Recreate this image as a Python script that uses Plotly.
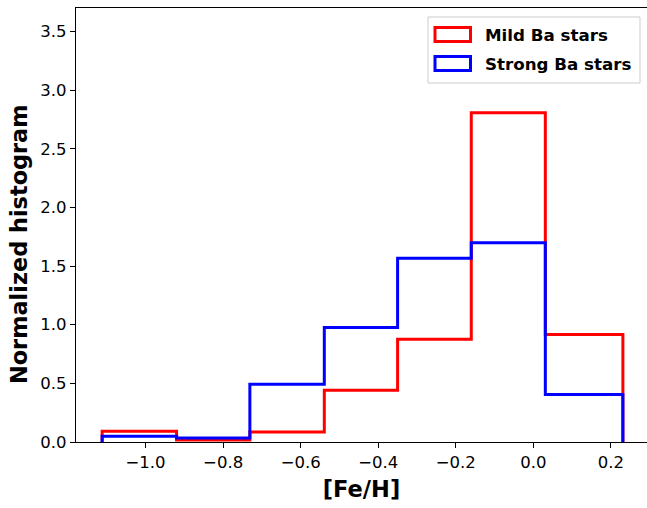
import plotly.graph_objects as go

# Histogram bin edges in [Fe/H]
bin_edges = [-1.112, -0.920, -0.731, -0.539, -0.350, -0.160, 0.031, 0.231]

# Normalized (density) bin heights for each sample
mild_heights = [0.091, 0.017, 0.085, 0.441, 0.876, 2.807, 0.916]
strong_heights = [0.049, 0.034, 0.492, 0.976, 1.567, 1.698, 0.404]

series_names = ["Mild Ba stars", "Strong Ba stars"]
series_colors = ["#ff0000", "#0000ff"]

x_tick_vals = [-1.0, -0.8, -0.6, -0.4, -0.2, 0.0, 0.2]
x_tick_text = ["\u22121.0", "\u22120.8", "\u22120.6", "\u22120.4", "\u22120.2", "0.0", "0.2"]
y_tick_vals = [0.0, 0.5, 1.0, 1.5, 2.0, 2.5, 3.0, 3.5]
y_tick_text = ["0.0", "0.5", "1.0", "1.5", "2.0", "2.5", "3.0", "3.5"]

FONT = "DejaVu Sans"


def step_outline(edges, heights):
    """Outline of a step histogram: up from 0 at the first edge, across, down at the last."""
    xs = [edges[0]] + list(edges[:-1]) + [edges[-1]]
    ys = [0.0] + list(heights) + [0.0]
    return xs, ys


fig = go.Figure()
for name, heights, color in zip(series_names, [mild_heights, strong_heights], series_colors):
    xs, ys = step_outline(bin_edges, heights)
    fig.add_trace(go.Scatter(
        x=xs, y=ys, mode="lines", name=name,
        line=dict(color=color, width=3, shape="hv"),
        showlegend=False, hoverinfo="skip",
    ))

W, H = 647, 508
ML, MR, MT, MB = 76, 0, 8, 66
PW, PH = W - ML - MR, H - MT - MB


def px_x(p):
    return (p - ML) / PW


def px_y(p):
    return (H - MB - p) / PH


# Legend frame with outlined patches
shapes = [dict(type="rect", xref="paper", yref="paper",
               x0=px_x(428), x1=px_x(640), y0=px_y(83), y1=px_y(17),
               line=dict(color="#cccccc", width=1), fillcolor="rgba(255,255,255,0.8)", layer="above")]
annotations = []
for i, (name, color) in enumerate(zip(series_names, series_colors)):
    yc = 34.5 + i * 29
    shapes.append(dict(type="rect", xref="paper", yref="paper",
                       x0=px_x(435), x1=px_x(470.5), y0=px_y(yc + 7), y1=px_y(yc - 7),
                       line=dict(color=color, width=3), fillcolor="white", layer="above"))
    annotations.append(dict(xref="paper", yref="paper", x=px_x(483), y=px_y(yc),
                            xanchor="left", yanchor="middle", showarrow=False, text=f"<b>{name}</b>",
                            font=dict(family=FONT, size=16.7, color="black")))

# Y-axis label
annotations.append(dict(xref="paper", yref="paper", x=px_x(19), y=px_y(244),
                        xanchor="center", yanchor="middle", showarrow=False, textangle=-90,
                        text="<b>Normalized histogram</b>",
                        font=dict(family=FONT, size=22.4, color="black")))

fig.update_layout(
    width=W, height=H,
    margin=dict(l=ML, r=MR, t=MT, b=MB, pad=0),
    paper_bgcolor="white", plot_bgcolor="white",
    font=dict(family=FONT, size=16, color="black"),
    shapes=shapes, annotations=annotations,
    xaxis=dict(
        range=[-1.1794, 0.2932], tickvals=x_tick_vals, ticktext=x_tick_text,
        showgrid=False, zeroline=False, showline=True, linecolor="black", linewidth=1.2,
        mirror=True, ticks="outside", ticklen=5, tickwidth=1.2, tickcolor="black",
        tickfont=dict(family=FONT, size=16.5),
        title=dict(text="<b>[Fe/H]</b>", font=dict(family=FONT, size=22.5), standoff=10),
    ),
    yaxis=dict(
        range=[0, 3.7], tickvals=y_tick_vals, ticktext=y_tick_text,
        showgrid=False, zeroline=False, showline=True, linecolor="black", linewidth=1.2,
        ticks="outside", ticklen=5, tickwidth=1.2, tickcolor="black",
        tickfont=dict(family=FONT, size=16.5),
    ),
)

fig.write_html("out.html")
